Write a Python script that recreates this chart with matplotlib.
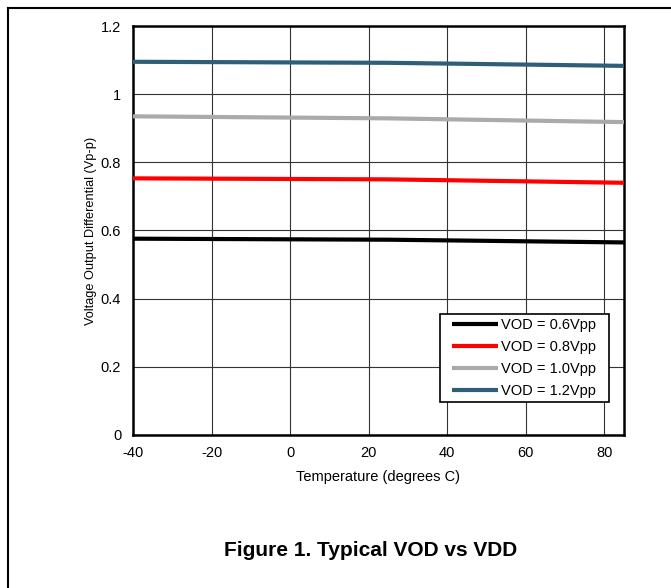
import matplotlib.pyplot as plt
from matplotlib.lines import Line2D
from matplotlib.patches import Rectangle

plt.rcParams['font.family'] = ['Liberation Sans', 'DejaVu Sans']
plt.rcParams['axes.unicode_minus'] = False

temps = [-40, 25, 85]
vod_06 = [0.576, 0.573, 0.565]
vod_08 = [0.753, 0.750, 0.740]
vod_10 = [0.935, 0.929, 0.918]
vod_12 = [1.095, 1.092, 1.083]

labels = ['VOD = 0.6Vpp', 'VOD = 0.8Vpp', 'VOD = 1.0Vpp', 'VOD = 1.2Vpp']
colors = ['#000000', '#ff0000', '#aaaaaa', '#2e5e78']
series = [vod_06, vod_08, vod_10, vod_12]

xticks = [-40, -20, 0, 20, 40, 60, 80]
yticks = [0, 0.2, 0.4, 0.6, 0.8, 1, 1.2]
ytick_labels = ['0', '0.2', '0.4', '0.6', '0.8', '1', '1.2']

fig = plt.figure(figsize=(6.71, 5.88), dpi=100)
ax = fig.add_axes([133/671, 1 - 435/588, 491/671, 409/588])

# outer frame: top and left border only
fig.add_artist(Line2D([8/671, 1], [1 - 8/588, 1 - 8/588], color='black', lw=1.5,
                      transform=fig.transFigure))
fig.add_artist(Line2D([8/671, 8/671], [1 - 8/588, 0], color='black', lw=1.5,
                      transform=fig.transFigure))

for vals, c, lab in zip(series, colors, labels):
    ax.plot(temps, vals, color=c, lw=3, label=lab, solid_capstyle='butt', zorder=3)

ax.set_xlim(-40, 85)
ax.set_ylim(0, 1.2)
ax.set_xticks(xticks)
ax.set_yticks(yticks)
ax.set_yticklabels(ytick_labels)
ax.grid(True, color='#333333', lw=0.8)
ax.tick_params(axis='x', length=0, labelsize=10.5, pad=8)
ax.tick_params(axis='y', length=0, labelsize=10.5, pad=8.5)
for s in ax.spines.values():
    s.set_linewidth(1.8)

ax.set_xlabel('Temperature (degrees C)', fontsize=10.5, labelpad=7)
ax.set_ylabel('Voltage Output Differential (Vp-p)', fontsize=9.2, labelpad=3)

# legend box drawn separately so the side padding can be wider than the top/bottom
box_x0, box_x1 = 0.625, 0.969
box_y0, box_y1 = 0.081, 0.296
ax.add_patch(Rectangle((box_x0, box_y0), box_x1 - box_x0, box_y1 - box_y0,
                       transform=ax.transAxes, facecolor='white', edgecolor='black',
                       lw=1.2, zorder=4))
leg = ax.legend(loc='center', bbox_to_anchor=((box_x0 + box_x1) / 2, (box_y0 + box_y1) / 2),
                fontsize=10.5, frameon=False, handlelength=3.15, handletextpad=0.2,
                borderpad=0, labelspacing=0.55, borderaxespad=0)
leg.set_zorder(5)

fig.text(371/671, 1 - 550/588, 'Figure 1. Typical VOD vs VDD', ha='center', va='center',
         fontsize=15, fontweight='bold')

fig.savefig('out.png', dpi=100)
